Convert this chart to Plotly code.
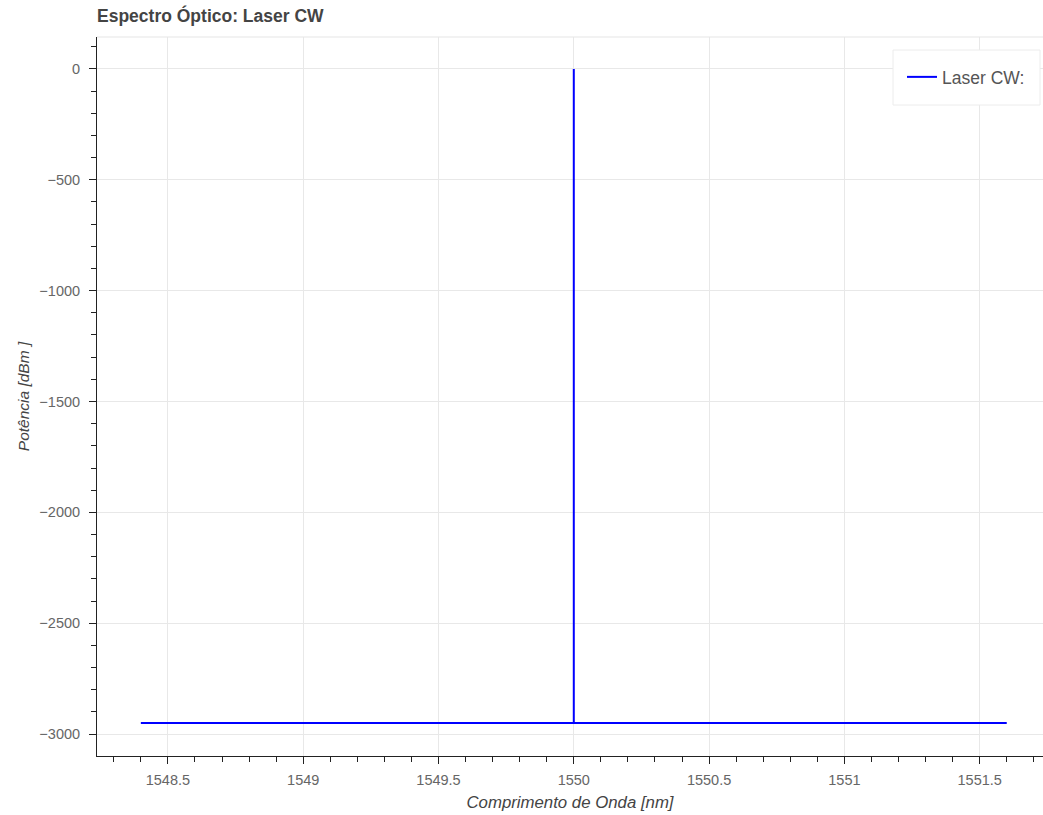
import plotly.graph_objects as go

# Data
wavelength_nm = [1548.4, 1550.0, 1550.0, 1550.0, 1551.6]
power_dbm = [-2950, -2950, 0, -2950, -2950]
series_name = "Laser CW:"
title_text = "Espectro Óptico: Laser CW"
x_title = "Comprimento de Onda [nm]"
y_title = "Potência [dBm ]"
x_ticks = [1548.5, 1549, 1549.5, 1550, 1550.5, 1551, 1551.5]
x_ticklabels = ["1548.5", "1549", "1549.5", "1550", "1550.5", "1551", "1551.5"]
y_ticks = [0, -500, -1000, -1500, -2000, -2500, -3000]

# plot-area geometry (pixels)
L, R, T, B = 97, 1043, 37, 756
PW, PH = R - L, B - T


def px_x(p):
    return (p - L) / PW


def px_y(p):
    return (B - p) / PH


fig = go.Figure()
fig.add_trace(go.Scatter(
    x=wavelength_nm, y=power_dbm, mode="lines", name=series_name,
    line=dict(color="#0000ff", width=2),
))

font_family = "Liberation Sans, Arial, Helvetica, sans-serif"
fig.update_layout(
    width=1043, height=815,
    margin=dict(l=L, r=1043 - R, t=T, b=815 - B),
    paper_bgcolor="white", plot_bgcolor="white",
    font=dict(family=font_family, color="#444444", size=15),
    title=dict(text="<b>" + title_text + "</b>", x=0, xref="paper", xanchor="left",
               y=1 - 16 / 815, yref="container", yanchor="middle",
               font=dict(size=17.5, color="#444444", family=font_family)),
    showlegend=True,
    legend=dict(x=px_x(902), xanchor="left", y=px_y(59), yanchor="top",
                bgcolor="rgba(0,0,0,0)", borderwidth=0,
                font=dict(size=17.5, color="#555555"),
                itemwidth=30, tracegroupgap=0),
)
fig.update_xaxes(
    range=[1548.238, 1551.734],
    tickvals=x_ticks, ticktext=x_ticklabels,
    showgrid=True, gridcolor="#e8e8e8", gridwidth=1,
    zeroline=False,
    showline=True, linecolor="#222222", linewidth=1,
    ticks="outside", ticklen=7, tickcolor="#222222", tickwidth=1,
    minor=dict(dtick=0.1, ticks="outside", ticklen=5, tickcolor="#222222", showgrid=False),
    tickfont=dict(size=14.5, color="#666666"),
    ticklabelstandoff=4,
    title=dict(text="<i>" + x_title + "</i>", font=dict(size=16.8, color="#444444"), standoff=8),
)
fig.update_yaxes(
    range=[-3099, 144],
    tickvals=y_ticks,
    showgrid=True, gridcolor="#e8e8e8", gridwidth=1,
    zeroline=False,
    showline=True, linecolor="#222222", linewidth=1,
    ticks="outside", ticklen=7, tickcolor="#222222", tickwidth=1,
    minor=dict(dtick=100, ticks="outside", ticklen=5, tickcolor="#222222", showgrid=False),
    tickfont=dict(size=14.5, color="#666666"),
    ticklabelstandoff=6,
    title=dict(text="<i>" + y_title + "</i>", font=dict(size=15.5, color="#444444"), standoff=5),
)
# light plot outline at the top
fig.add_shape(type="line", xref="paper", yref="paper", x0=0, x1=1, y0=1, y1=1,
              line=dict(color="#e5e5e5", width=1))
# legend box
fig.add_shape(type="rect", xref="paper", yref="paper",
              x0=px_x(893), x1=px_x(1040), y0=px_y(105), y1=px_y(50),
              fillcolor="white", line=dict(color="#ececec", width=1), layer="above")
fig.write_html("out.html")
